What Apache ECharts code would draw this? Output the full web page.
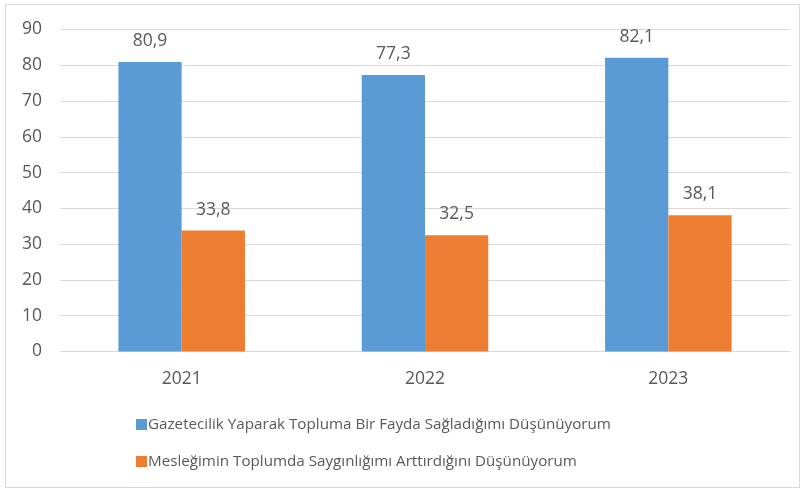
<!DOCTYPE html>
<html>
<head>
<meta charset="utf-8">
<script src="https://cdn.jsdelivr.net/npm/echarts@6/dist/echarts.min.js"></script>
<style>
  html, body { margin: 0; padding: 0; background: #fff; }
  #frame { position: absolute; left: 5px; top: 4px; width: 795px; height: 484px; border: 1px solid #d9d9d9; box-sizing: border-box; }
  #chart { width: 806px; height: 490px; position: absolute; left: 0; top: 0; }
</style>
</head>
<body>
<div id="frame"></div>
<div id="chart"></div>
<script>
const years = ['2021', '2022', '2023'];
const seriesNames = [
  'Gazetecilik Yaparak Topluma Bir Fayda Sağladığımı Düşünüyorum',
  'Mesleğimin Toplumda Saygınlığımı Arttırdığını Düşünüyorum'
];
const benefitValues = [80.9, 77.3, 82.1];
const prestigeValues = [33.8, 32.5, 38.1];
const yTicks = [0, 10, 20, 30, 40, 50, 60, 70, 80, 90];

const textColor = '#595959';
const fontFamily = 'Open Sans, sans-serif';
const fmt = v => String(v).replace('.', ',');

const valueLabel = {
  show: true, position: 'top', distance: 12,
  color: textColor, fontSize: 17.5, fontFamily: fontFamily,
  formatter: p => fmt(p.value)
};

const chart = echarts.init(document.getElementById('chart'), null, { renderer: 'canvas' });
chart.setOption({
  animation: false,
  textStyle: { fontFamily: fontFamily },
  grid: { left: 60, right: 16, top: 29.5, bottom: 138.5, containLabel: false },
  xAxis: {
    type: 'category',
    data: years,
    axisTick: { show: false },
    axisLine: { lineStyle: { color: '#d9d9d9', width: 1 } },
    axisLabel: { color: textColor, fontSize: 17.5, margin: 19, fontFamily: fontFamily }
  },
  yAxis: {
    type: 'value',
    min: yTicks[0],
    max: yTicks[yTicks.length - 1],
    interval: 10,
    axisLine: { show: false },
    axisTick: { show: false },
    splitLine: { lineStyle: { color: '#d9d9d9', width: 1 } },
    axisLabel: { color: textColor, fontSize: 17.5, margin: 18, fontFamily: fontFamily }
  },
  legend: {
    orient: 'vertical',
    left: 131,
    top: 412,
    itemWidth: 11,
    itemHeight: 11,
    itemGap: 22,
    icon: 'rect',
    textStyle: { color: textColor, fontSize: 15.2, fontFamily: fontFamily, padding: [0, 0, 0, -4] },
    data: seriesNames
  },
  series: [
    {
      name: seriesNames[0],
      type: 'bar',
      data: benefitValues,
      barGap: '0%',
      barCategoryGap: '48%',
      itemStyle: { color: '#5b9bd5' },
      label: valueLabel
    },
    {
      name: seriesNames[1],
      type: 'bar',
      data: prestigeValues,
      itemStyle: { color: '#ed7d31' },
      label: valueLabel
    }
  ]
});
</script>
</body>
</html>
